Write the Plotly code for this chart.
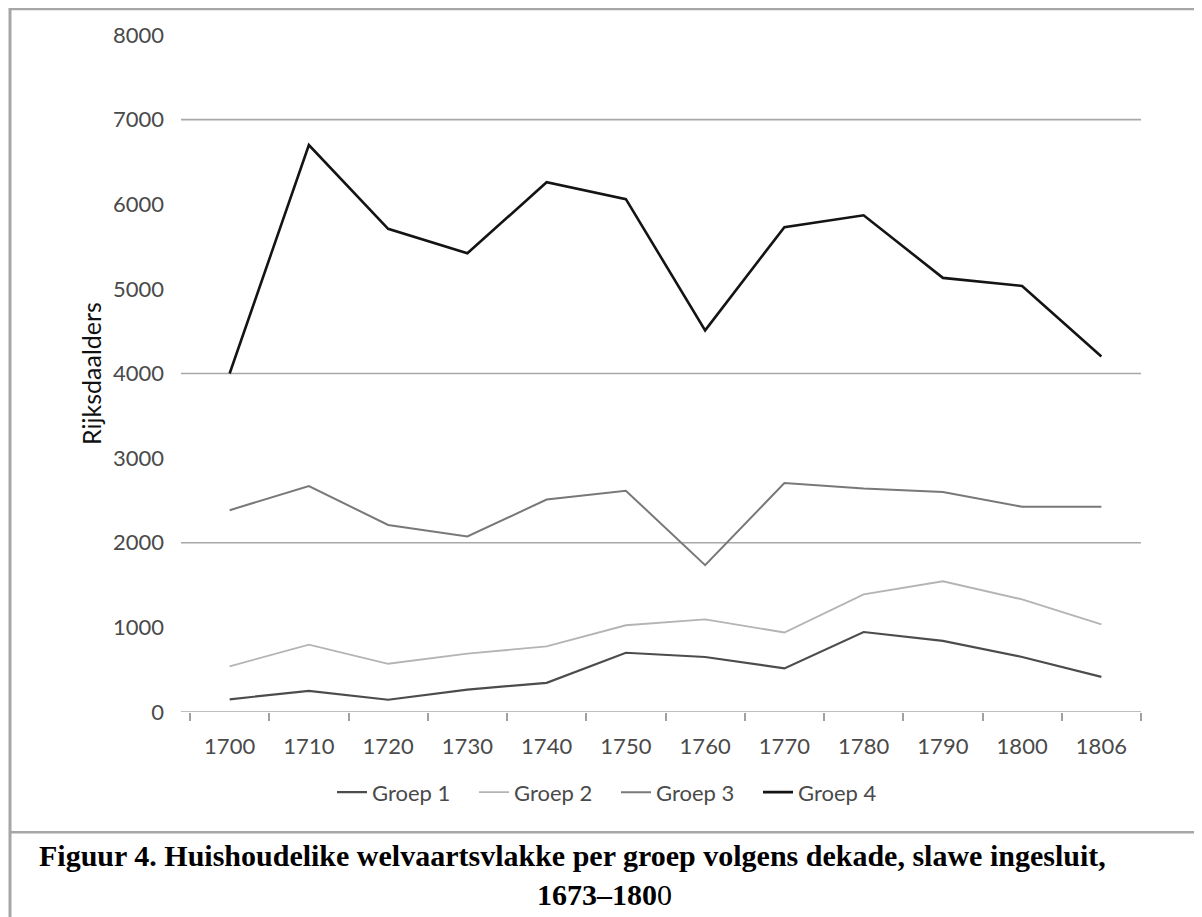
import plotly.graph_objects as go

decades = ["1700", "1710", "1720", "1730", "1740", "1750", "1760", "1770", "1780", "1790", "1800", "1806"]
groep1 = [150, 250, 145, 265, 345, 700, 650, 515, 945, 840, 650, 415]
groep2 = [540, 795, 570, 690, 775, 1025, 1095, 940, 1390, 1545, 1330, 1035]
groep3 = [2385, 2670, 2210, 2075, 2510, 2615, 1735, 2705, 2640, 2600, 2425, 2425]
groep4 = [4000, 6700, 5710, 5420, 6260, 6060, 4510, 5730, 5870, 5130, 5035, 4200]
series_names = ["Groep 1", "Groep 2", "Groep 3", "Groep 4"]
y_ticks = [0, 1000, 2000, 3000, 4000, 5000, 6000, 7000, 8000]
grid_levels = [0, 2000, 4000, 7000]

OFF = 8  # default body margin of the html page
W, H = 1202 - OFF, 917 - OFF
PL, PR, PT, PB = 190, 1141, 35, 711.7   # plot area in page pixels
PW, PH = PR - PL, PB - PT

def px(x):
    return (x - PL) / PW

def py(y):
    return 1 - (y - PT) / PH

styles = [
    dict(color="#4c4c4c", width=2.2),
    dict(color="#b4b4b4", width=1.8),
    dict(color="#787878", width=2.0),
    dict(color="#141414", width=2.6),
]

fig = go.Figure()
for name, vals, st in zip(series_names, [groep1, groep2, groep3, groep4], styles):
    fig.add_trace(go.Scatter(x=decades, y=vals, mode="lines", name=name, line=st))

shapes = []
for g in grid_levels:
    shapes.append(dict(type="line", xref="paper", yref="y", x0=px(181), x1=px(1141), y0=g, y1=g,
                       line=dict(color="#a8a8a8", width=1.6), layer="below"))
frame = dict(color="#a6a6a6", width=2.5)
shapes.append(dict(type="line", xref="paper", yref="paper", x0=px(10), x1=px(1210), y0=py(9), y1=py(9), line=frame))
shapes.append(dict(type="line", xref="paper", yref="paper", x0=px(10), x1=px(10), y0=py(8), y1=py(930),
                   line=dict(color="#a6a6a6", width=3)))
shapes.append(dict(type="line", xref="paper", yref="paper", x0=px(10), x1=px(1210), y0=py(832), y1=py(832), line=frame))

fig.update_layout(
    width=W, height=H,
    margin=dict(l=PL - OFF, r=W - (PR - OFF), t=PT - OFF, b=H - (PB - OFF), pad=0),
    paper_bgcolor="white", plot_bgcolor="white",
    font=dict(family="Lato", size=22, color="#4a4a4a"),
    showlegend=True,
    legend=dict(orientation="h", x=px(332), xanchor="left", y=py(792), yanchor="middle",
                font=dict(family="Lato", size=22, color="#4a4a4a"),
                entrywidth=97, entrywidthmode="pixels", bgcolor="rgba(0,0,0,0)",
                itemclick=False, tracegroupgap=0),
    xaxis=dict(type="category", range=[-0.5, len(decades) - 0.5], showgrid=False, showline=False, zeroline=False,
               ticks="outside", tickson="boundaries", ticklen=8, tickcolor="#a0a0a0", tickwidth=1.5,
               tickfont=dict(family="Lato", size=22, color="#4a4a4a"), ticklabelstandoff=19),
    yaxis=dict(range=[0, 8000], tickvals=y_ticks, showgrid=False, zeroline=False, showline=False,
               ticks="", tickfont=dict(family="Lato", size=22, color="#4a4a4a"), ticklabelstandoff=25,
               title=dict(text="Rijksdaalders", font=dict(family="Lato", size=25, color="#111111"), standoff=4)),
    shapes=shapes,
    annotations=[
        dict(text="<b>Figuur 4. Huishoudelike welvaartsvlakke per groep volgens dekade, slawe ingesluit,</b>",
             xref="paper", yref="paper", x=px(572), y=py(855), xanchor="center", yanchor="middle",
             showarrow=False, font=dict(family="Liberation Serif", size=30, color="#000000")),
        dict(text="<b>1673–180</b>0",
             xref="paper", yref="paper", x=px(604), y=py(894), xanchor="center", yanchor="middle",
             showarrow=False, font=dict(family="Liberation Serif", size=30, color="#000000")),
    ],
)

fig.write_html("out.html")
